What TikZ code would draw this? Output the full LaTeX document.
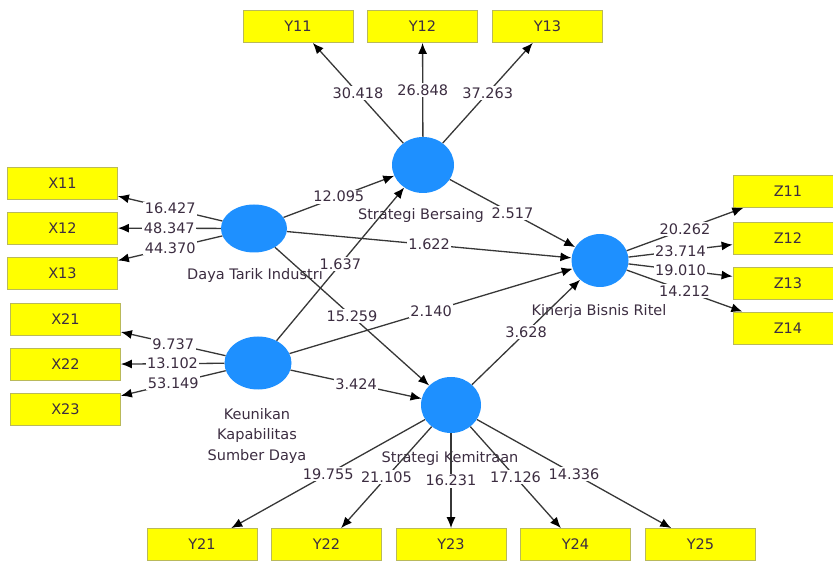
\documentclass[tikz,border=0pt]{standalone}
\usepackage{fontspec}
\setmainfont{DejaVu Sans}
\usetikzlibrary{shapes.geometric,arrows.meta}
\definecolor{lvblue}{RGB}{30,144,255}
\definecolor{boxyellow}{RGB}{255,255,0}
\definecolor{boxedge}{RGB}{185,185,90}
\definecolor{linegray}{RGB}{55,55,55}
\definecolor{txtgray}{RGB}{60,45,65}
\begin{document}
\begin{tikzpicture}[x=1pt,y=-1pt,
    font=\fontsize{14.5}{20.5}\selectfont,
    lv/.style={ellipse,fill=lvblue,minimum width=62pt,minimum height=54pt,inner sep=0pt},
    lvname/.style={text=txtgray,align=center,inner sep=0pt},
    ind/.style={rectangle,fill=boxyellow,draw=boxedge,line width=0.8pt,minimum width=110pt,minimum height=32pt,inner sep=0pt,text=txtgray},
    link/.style={draw=linegray,line width=1.3pt,-{Latex[length=11pt,width=9pt,color=black]}},
    coef/.style={fill=white,text=txtgray,inner sep=1.5pt,pos=0.5}]
            \useasboundingbox (0,0) rectangle (833,561);
            \node[lv,minimum width=66pt,minimum height=48pt] (DTI) at (254,228.5) {};
            \node[lv,minimum width=67pt,minimum height=53pt] (KKS) at (258,363) {};
            \node[lv,minimum width=62pt,minimum height=56pt] (SB) at (423,165) {};
            \node[lv,minimum width=57pt,minimum height=53pt] (KBR) at (600,260.5) {};
            \node[lv,minimum width=60pt,minimum height=56pt] (SK) at (451,405) {};
            
            \node[lvname] (DTIn) at (255,276) {Daya Tarik Industri};
            \node[lvname] (KKSn) at (257,435.5) {Keunikan\\Kapabilitas\\Sumber Daya};
            \node[lvname] (SBn) at (421,216) {Strategi Bersaing};
            \node[lvname] (KBRn) at (599,312) {Kinerja Bisnis Ritel};
            \node[lvname] (SKn) at (450,458) {Strategi Kemitraan};
            
            \node[ind] (X11) at (62.5,183) {X11};
            \node[ind] (X12) at (62.5,228) {X12};
            \node[ind] (X13) at (62.5,273.5) {X13};
            \node[ind] (X21) at (65.5,319.5) {X21};
            \node[ind] (X22) at (65.5,364.5) {X22};
            \node[ind] (X23) at (65.5,409) {X23};
            
            \node[ind] (Y11) at (298,26.5) {Y11};
            \node[ind] (Y12) at (422.5,26.5) {Y12};
            \node[ind] (Y13) at (547.5,26.5) {Y13};
            
            \node[ind] (Z11) at (788,191.5) {Z11};
            \node[ind] (Z12) at (788,238) {Z12};
            \node[ind] (Z13) at (788,283) {Z13};
            \node[ind] (Z14) at (788,328) {Z14};
            
            \node[ind] (Y21) at (202,544.5) {Y21};
            \node[ind] (Y22) at (326.5,544.5) {Y22};
            \node[ind] (Y23) at (451,544.5) {Y23};
            \node[ind] (Y24) at (575.5,544.5) {Y24};
            \node[ind] (Y25) at (700.5,544.5) {Y25};
            
            \draw[link] (DTI) -- node[coef]{16.427} (X11);
            \draw[link] (DTI) -- node[coef]{48.347} (X12);
            \draw[link] (DTI) -- node[coef]{44.370} (X13);
            \draw[link] (KKS) -- node[coef]{9.737} (X21);
            \draw[link] (KKS) -- node[coef]{13.102} (X22);
            \draw[link] (KKS) -- node[coef]{53.149} (X23);
            
            \draw[link] (SB) -- node[coef]{30.418} (Y11);
            \draw[link] (SB) -- node[coef]{26.848} (Y12);
            \draw[link] (SB) -- node[coef]{37.263} (Y13);
            
            \draw[link] (KBR) -- node[coef]{20.262} (Z11);
            \draw[link] (KBR) -- node[coef]{23.714} (Z12);
            \draw[link] (KBR) -- node[coef]{19.010} (Z13);
            \draw[link] (KBR) -- node[coef]{14.212} (Z14);
            
            \draw[link] (SK) -- node[coef]{19.755} (Y21);
            \draw[link] (SK) -- node[coef]{21.105} (Y22);
            \draw[link] (SK) -- node[coef]{16.231} (Y23);
            \draw[link] (SK) -- node[coef]{17.126} (Y24);
            \draw[link] (SK) -- node[coef]{14.336} (Y25);
            
            \draw[link] (DTI) -- node[coef]{12.095} (SB);
            \draw[link] (KKS) -- node[coef]{1.637} (SB);
            \draw[link] (DTI) -- node[coef]{1.622} (KBR);
            \draw[link] (KKS) -- node[coef]{2.140} (KBR);
            \draw[link] (DTI) -- node[coef]{15.259} (SK);
            \draw[link] (KKS) -- node[coef]{3.424} (SK);
            \draw[link] (SB) -- node[coef]{2.517} (KBR);
            \draw[link] (SK) -- node[coef]{3.628} (KBR);
\end{tikzpicture}
\end{document}
